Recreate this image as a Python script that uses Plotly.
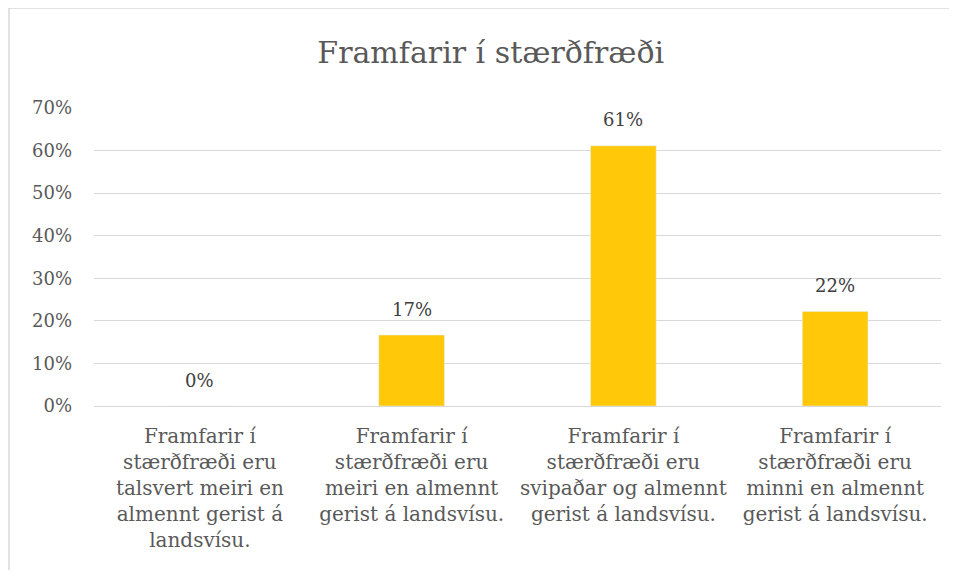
import plotly.graph_objects as go

categories = [
    "Framfarir í<br>stærðfræði eru<br>talsvert meiri en<br>almennt gerist á<br>landsvísu.",
    "Framfarir í<br>stærðfræði eru<br>meiri en almennt<br>gerist á landsvísu.",
    "Framfarir í<br>stærðfræði eru<br>svipaðar og almennt<br>gerist á landsvísu.",
    "Framfarir í<br>stærðfræði eru<br>minni en almennt<br>gerist á landsvísu.",
]
shares = [0.0, 0.1667, 0.6111, 0.2222]

font = "DejaVu Serif"
grey = "#595959"

fig = go.Figure(go.Bar(
    x=categories, y=shares,
    marker_color="#FFC90A",
    width=0.31,
    hoverinfo="x+y",
))

# value labels above the bars
for cat, val in zip(categories, shares):
    fig.add_annotation(x=cat, y=val, text=f"{val:.0%}", showarrow=False,
                       yanchor="middle", yshift=26,
                       font=dict(family=font, size=18, color="#404040"))

# page body has an 8px margin, so the figure is sized to fit inside it
fig.update_layout(
    width=941, height=562,
    margin=dict(l=86, r=8, t=100, b=164),
    paper_bgcolor="white", plot_bgcolor="white",
    title=dict(text="Framfarir í stærðfræði", x=0.513, xanchor="center",
               y=1 - 44 / 562, yanchor="middle",
               font=dict(family=font, size=30, color=grey)),
    font=dict(family=font, color=grey),
    showlegend=False,
)
fig.update_yaxes(range=[0, 0.7], dtick=0.1, tickformat=".0%",
                 gridcolor="#D9D9D9", gridwidth=1, zeroline=False,
                 showline=False, ticks="", ticklabelstandoff=21,
                 tickfont=dict(family=font, size=18, color=grey))
fig.update_xaxes(showgrid=False, showline=True, linecolor="#D9D9D9",
                 ticks="", tickangle=0, ticklabelstandoff=12,
                 tickfont=dict(family=font, size=20, color=grey))

# chart frame: only the top and left edges show, the rest is cropped
frame = dict(color="#D9D9D9", width=1.5)
fig.add_shape(type="line", xref="paper", yref="paper",
              x0=-0.1004, x1=1.2, y0=1.3356, y1=1.3356, line=frame)
fig.add_shape(type="line", xref="paper", yref="paper",
              x0=-0.1004, x1=-0.1004, y0=-0.8, y1=1.3356, line=frame)

fig.write_html("out.html")
